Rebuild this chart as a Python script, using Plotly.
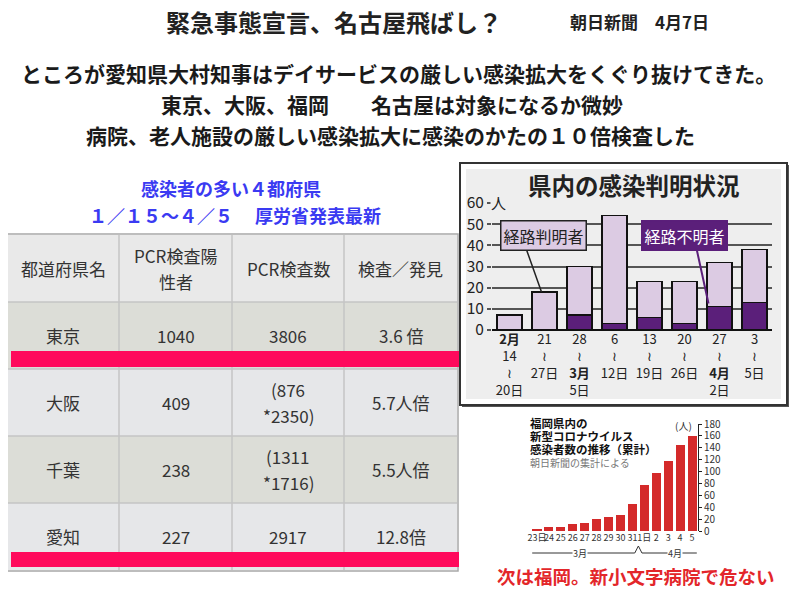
import plotly.graph_objects as go

W, H = 800, 595
FONT = "Noto Sans CJK JP"

# 愛知: 県内の感染判明状況 (週ごとの人数)
weeks = ["<b>2月</b><br>14<br>≀<br>20日", "21<br>≀<br>27日", "28<br>≀<br><b>3月</b><br>5日",
         "6<br>≀<br>12日", "13<br>≀<br>19日", "20<br>≀<br>26日",
         "27<br>≀<br><b>4月</b><br>2日", "3<br>≀<br>5日"]
route_known = [7, 18, 23, 51, 17, 20, 21, 25]
route_unknown = [0, 0, 7, 3, 6, 3, 11, 13]

# 福岡県内の感染者数の推移（累計）
fk_days = ["23日", "24", "25", "26", "27", "28", "29", "30", "31", "1日", "2", "3", "4", "5"]
fk_cases = [4, 7, 7, 11, 14, 20, 24, 27, 45, 77, 98, 117, 144, 160]

# 感染者の多い４都府県
tbl_header = ["都道府県名", "PCR検査陽<br>性者", "PCR検査数", "検査／発見"]
prefs = ["東京", "大阪", "千葉", "愛知"]
positives = ["1040", "409", "238", "227"]
tests = ["3806", "(876<br>*2350)", "(1311<br>*1716)", "2917"]
ratios = ["3.6 倍", "5.7人倍", "5.5人倍", "12.8倍"]

# the page puts the figure 8px in from the top-left corner
OFF = 8


def px(x):
    return (x - OFF) / W


def py(y):
    return 1 - (y - OFF) / H


LIGHT = "#dccbe3"
DARK = "#5b1f7a"
PINK = "#ff0a5c"

fig = go.Figure()

fig.add_trace(go.Bar(x=weeks, y=route_unknown, marker=dict(color=DARK, line=dict(color="#111", width=1.5)),
                     width=0.72, xaxis="x", yaxis="y", hoverinfo="skip"))
fig.add_trace(go.Bar(x=weeks, y=route_known, marker=dict(color=LIGHT, line=dict(color="#111", width=1.5)),
                     width=0.72, xaxis="x", yaxis="y", hoverinfo="skip"))
fig.add_trace(go.Bar(x=fk_days, y=fk_cases, marker=dict(color="#d42a2a", line=dict(width=0)),
                     width=0.76, xaxis="x2", yaxis="y2", hoverinfo="skip"))

shapes = []
ann = []


def text(x, y, s, size, color="#222", bold=False, xanchor="center", **kw):
    if bold:
        s = "<b>" + s + "</b>"
    ann.append(dict(x=px(x), y=py(y), xref="paper", yref="paper", text=s, showarrow=False,
                    xanchor=xanchor, yanchor="middle",
                    font=dict(family=FONT, size=size, color=color), **kw))


# headings
text(334, 21, "緊急事態宣言、名古屋飛ばし？", 24, "#222", True)
text(639, 21, "朝日新聞　4月7日", 17, "#222", True)
text(398, 73, "ところが愛知県大村知事はデイサービスの厳しい感染拡大をくぐり抜けてきた。", 21, "#1a1a1a", True)
text(392, 104, "東京、大阪、福岡　　名古屋は対象になるか微妙", 21, "#1a1a1a", True)
text(390, 135, "病院、老人施設の厳しい感染拡大に感染のかたの１０倍検査した", 21, "#1a1a1a", True)
text(231, 188, "感染者の多い４都府県", 18, "#3a3af2", True)
text(235, 215, "１／１５〜４／５　 厚労省発表最新", 18, "#3a3af2", True)

# table
col_edges = [7, 119, 232, 344, 457]
row_edges = [235, 302, 369, 436, 503, 570]
row_fills = ["#e9e9e9", "#dcddd7", "#e6e7e9", "#dcddd7", "#e6e7e9"]
rows = [tbl_header] + [list(r) for r in zip(prefs, positives, tests, ratios)]
shapes.append(dict(type="rect", xref="paper", yref="paper", x0=px(col_edges[0] - 1), x1=px(col_edges[-1] + 1),
                   y0=py(row_edges[-1] + 1), y1=py(row_edges[0] - 1), line=dict(color="#a8a8a8", width=1.5)))
for r, row in enumerate(rows):
    y0, y1 = row_edges[r], row_edges[r + 1]
    shapes.append(dict(type="rect", xref="paper", yref="paper", x0=px(col_edges[0]), x1=px(col_edges[-1]),
                       y0=py(y1), y1=py(y0), fillcolor=row_fills[r], line=dict(width=0)))
    for c, cell in enumerate(row):
        cx = (col_edges[c] + col_edges[c + 1]) / 2
        cy = (y0 + y1) / 2
        lines = cell.split("<br>")
        for i, ln in enumerate(lines):
            text(cx, cy + (i - (len(lines) - 1) / 2) * 26, ln, 17, "#333")
for yy in row_edges[1:-1]:
    shapes.append(dict(type="line", xref="paper", yref="paper", x0=px(col_edges[0]), x1=px(col_edges[-1]),
                       y0=py(yy), y1=py(yy), line=dict(color="#c4c4c4", width=1.5)))
for xx in col_edges[1:-1]:
    shapes.append(dict(type="line", xref="paper", yref="paper", x0=px(xx), x1=px(xx),
                       y0=py(row_edges[0]), y1=py(row_edges[-1]), line=dict(color="#c4c4c4", width=1.5)))
for (a, b) in [(351, 367), (552, 567)]:
    shapes.append(dict(type="rect", xref="paper", yref="paper", x0=px(11), x1=px(459),
                       y0=py(b), y1=py(a), fillcolor=PINK, line=dict(width=0)))

# Aichi chart frame
shapes.append(dict(type="rect", xref="paper", yref="paper", x0=px(462), x1=px(789), y0=py(407), y1=py(165),
                   fillcolor="#555", line=dict(width=0), layer="below"))
shapes.append(dict(type="rect", xref="paper", yref="paper", x0=px(460), x1=px(787), y0=py(405), y1=py(163),
                   fillcolor="white", line=dict(color="#333", width=2), layer="below"))
shapes.append(dict(type="rect", xref="paper", yref="paper", x0=px(466), x1=px(781), y0=py(399), y1=py(169),
                   fillcolor="#eeeeee", line=dict(width=0), layer="below"))
text(634, 185, "県内の感染判明状況", 23.5, "#222", True)
text(498, 203, "人", 15, "#222", bgcolor="#eeeeee", borderpad=0)

# callouts
ann.append(dict(x=weeks[1], y=18, xref="x", yref="y", xshift=-3, text="", showarrow=True, arrowhead=0,
                arrowwidth=1.5, arrowcolor="#222", ax=-16, ay=-45))
ann.append(dict(x=px(543), y=py(236), xref="paper", yref="paper", text="経路判明者", showarrow=False,
                xanchor="center", yanchor="middle",
                font=dict(family=FONT, size=16, color="#222"), bgcolor=LIGHT, bordercolor="#222",
                borderwidth=1.5, borderpad=2))
ann.append(dict(x=weeks[6], y=12.5, xref="x", yref="y", xshift=-11, text="", showarrow=True, arrowhead=0,
                arrowwidth=2, arrowcolor=DARK, ax=-12, ay=-55))
ann.append(dict(x=px(684), y=py(236), xref="paper", yref="paper", text="経路不明者", showarrow=False,
                xanchor="center", yanchor="middle",
                font=dict(family=FONT, size=16, color="white"), bgcolor=DARK, bordercolor=DARK,
                borderwidth=1.5, borderpad=2))

# Fukuoka chart texts
for i, s in enumerate(["福岡県内の", "新型コロナウイルス", "感染者数の推移（累計）"]):
    text(528, 423 + i * 13, s, 11.5, "#111", True, xanchor="left")
text(528, 462, "朝日新聞の集計による", 10, "#777", xanchor="left")
text(683, 425, "(人)", 10, "#333")

# month brackets under Fukuoka axis
for (a, b) in [(-0.4, 8.2), (8.8, 13.4)]:
    shapes.append(dict(type="line", xref="x2", yref="paper", x0=a, x1=b, y0=py(553), y1=py(553),
                       line=dict(color="#333", width=1)))
shapes.append(dict(type="line", xref="x2", yref="paper", x0=8.2, x1=8.5, y0=py(553), y1=py(546),
                   line=dict(color="#333", width=1)))
shapes.append(dict(type="line", xref="x2", yref="paper", x0=8.5, x1=8.8, y0=py(546), y1=py(553),
                   line=dict(color="#333", width=1)))
for xm, s in [(3.6, "3月"), (11.6, "4月")]:
    ann.append(dict(x=xm, y=py(553), xref="x2", yref="paper", text=s, showarrow=False, bgcolor="white",
                    xanchor="center", yanchor="middle",
                    borderpad=0, font=dict(family=FONT, size=9, color="#333")))

text(636, 576, "次は福岡。新小文字病院で危ない", 18.5, "#e3262a", True)

fig.update_layout(
    width=W, height=H, margin=dict(l=0, r=0, t=0, b=0),
    paper_bgcolor="white", plot_bgcolor="rgba(0,0,0,0)",
    barmode="stack", showlegend=False,
    font=dict(family=FONT, color="#222"),
    xaxis=dict(domain=[px(492), px(772)], anchor="y", type="category", showgrid=False, ticks="",
               tickfont=dict(size=13, color="#222"), showline=False, fixedrange=True, automargin=False),
    yaxis=dict(domain=[py(330), py(203)], anchor="x", range=[0, 60], dtick=10, showgrid=True,
               gridcolor="#555", gridwidth=1.5, zeroline=True, zerolinecolor="#111", zerolinewidth=2,
               ticks="outside", ticklen=4, tickcolor="#555", tickwidth=1.5,
               tickfont=dict(size=15.5, color="#222"), fixedrange=True, automargin=False),
    xaxis2=dict(domain=[px(531), px(698)], anchor="y2", type="category", showgrid=False, ticks="",
                tickangle=0, tickfont=dict(size=9, color="#333"), showline=False, fixedrange=True,
                automargin=False),
    yaxis2=dict(domain=[py(531), py(424)], anchor="x2", side="right", range=[0, 180], dtick=20,
                showgrid=False, zeroline=False, showline=True, linecolor="#222", linewidth=1,
                ticks="outside", ticklen=3, tickcolor="#222", tickfont=dict(size=10, color="#333"),
                fixedrange=True, automargin=False),
    shapes=shapes, annotations=ann,
)

fig.write_html("out.html")
